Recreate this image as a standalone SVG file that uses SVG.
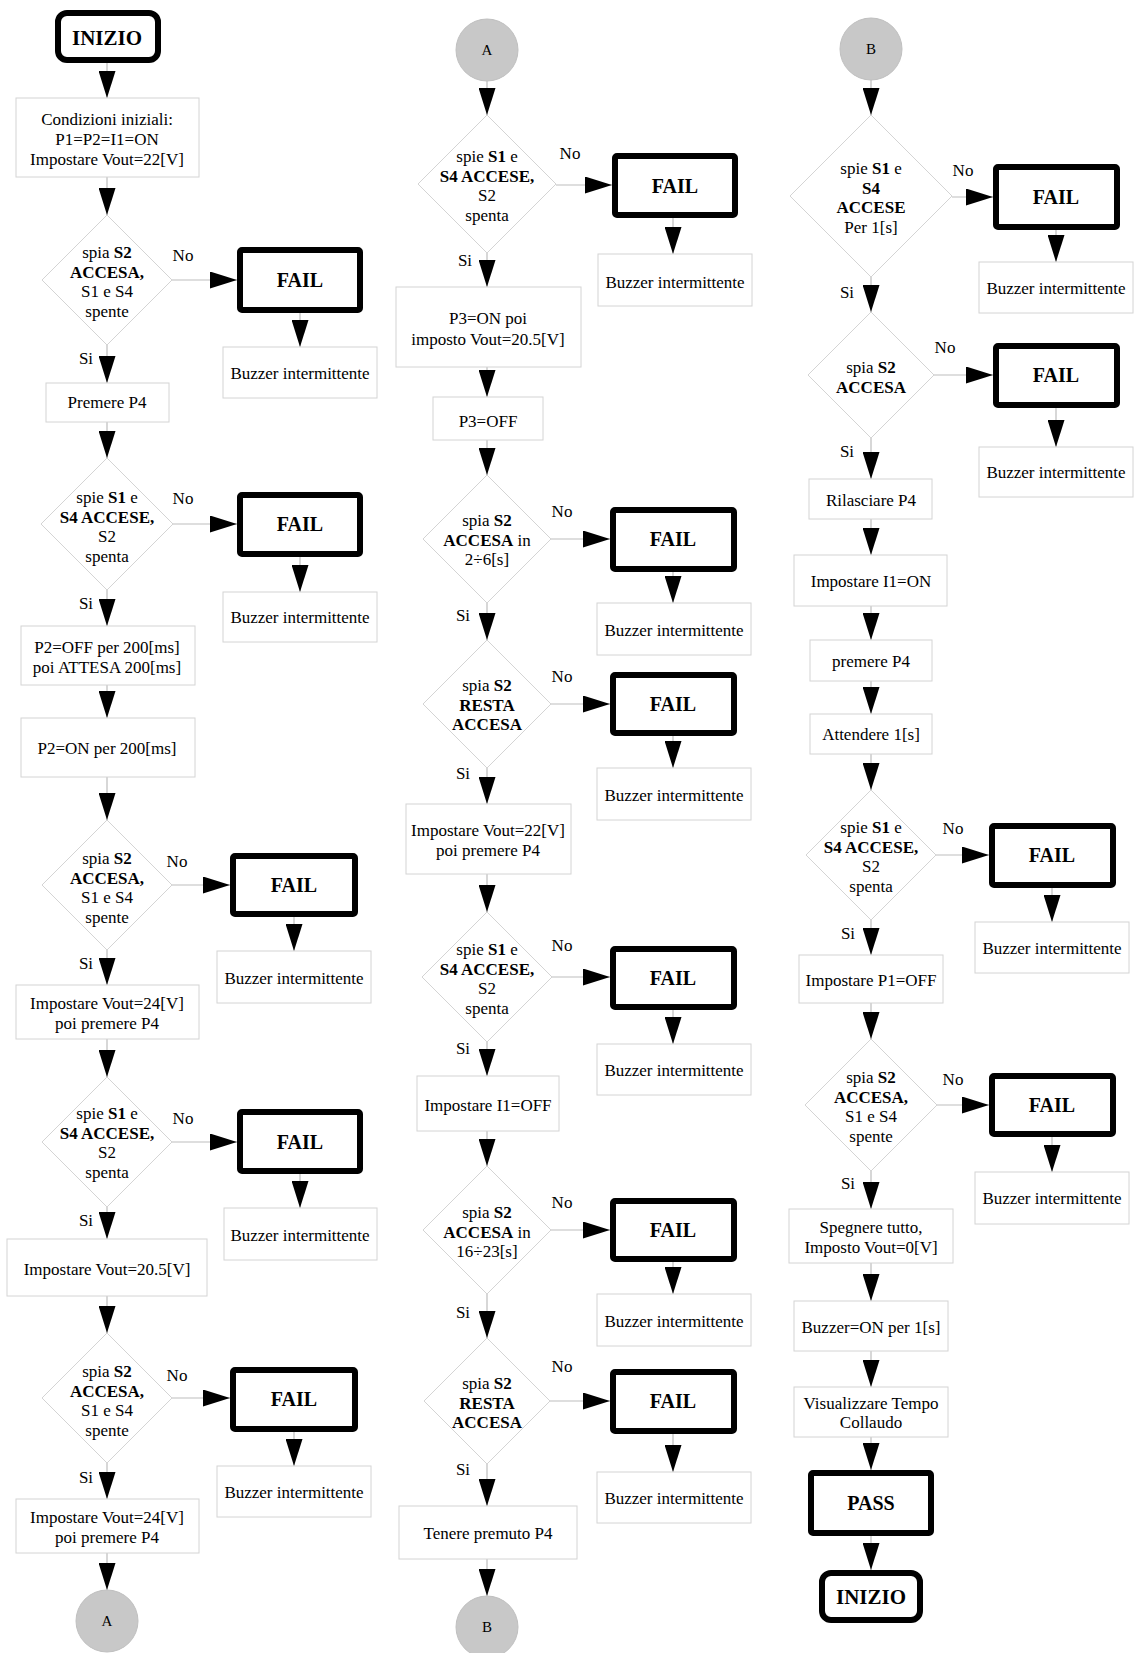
<svg xmlns="http://www.w3.org/2000/svg" width="1135" height="1653" viewBox="0 0 1135 1653">
<style>
text{font-family:"Liberation Serif","Times New Roman",serif;font-size:17px;fill:#000;text-anchor:middle}
.bx{fill:#fff;stroke:#d4d4d4;stroke-width:1}
.dm{fill:#fff;stroke:#d4d4d4;stroke-width:1}
.fail{fill:#fff;stroke:#000;stroke-width:6}
.ft{font-weight:bold;font-size:20px}
.it{font-weight:bold;font-size:21px}
.b{font-weight:bold}
.cir{fill:#c8c8c8;stroke:#c0c0c0;stroke-width:1}
.ct{font-size:15px}
.cn line{stroke:#bdbdbd;stroke-width:1.2;marker-end:url(#ah)}
</style>
<defs>
<marker id="ah" markerUnits="userSpaceOnUse" markerWidth="27" markerHeight="17" viewBox="0 0 27 17" refX="27" refY="8.5" orient="auto"><path d="M0,0 L27,8.5 L0,17 z" fill="#000"/></marker>
</defs>
<rect width="1135" height="1653" fill="#fff"/>

<g id="connectors" class="cn">
<!-- column 1 -->
<line x1="107" y1="63" x2="107" y2="98"/>
<line x1="107" y1="177" x2="107" y2="215"/>
<line x1="172" y1="280" x2="237" y2="280"/>
<line x1="300" y1="313" x2="300" y2="347"/>
<line x1="107" y1="345" x2="107" y2="383"/>
<line x1="107" y1="422" x2="107" y2="458"/>
<line x1="173" y1="524" x2="237" y2="524"/>
<line x1="300" y1="557" x2="300" y2="592"/>
<line x1="107" y1="590" x2="107" y2="626"/>
<line x1="107" y1="685" x2="107" y2="718"/>
<line x1="107" y1="777" x2="107" y2="820"/>
<line x1="172" y1="885" x2="230" y2="885"/>
<line x1="294" y1="917" x2="294" y2="951"/>
<line x1="107" y1="950" x2="107" y2="985"/>
<line x1="107" y1="1039" x2="107" y2="1077"/>
<line x1="172" y1="1142" x2="237" y2="1142"/>
<line x1="300" y1="1174" x2="300" y2="1208"/>
<line x1="107" y1="1207" x2="107" y2="1239"/>
<line x1="107" y1="1296" x2="107" y2="1333"/>
<line x1="172" y1="1398" x2="230" y2="1398"/>
<line x1="294" y1="1432" x2="294" y2="1466"/>
<line x1="107" y1="1463" x2="107" y2="1499"/>
<line x1="107" y1="1553" x2="107" y2="1590"/>
<!-- column 2 -->
<line x1="487" y1="81" x2="487" y2="115"/>
<line x1="556" y1="185" x2="612" y2="185"/>
<line x1="673" y1="218" x2="673" y2="254"/>
<line x1="487" y1="253" x2="487" y2="287"/>
<line x1="487" y1="367" x2="487" y2="397"/>
<line x1="487" y1="440" x2="487" y2="475"/>
<line x1="551" y1="539" x2="610" y2="539"/>
<line x1="673" y1="572" x2="673" y2="603"/>
<line x1="487" y1="603" x2="487" y2="640"/>
<line x1="551" y1="704" x2="610" y2="704"/>
<line x1="673" y1="736" x2="673" y2="768"/>
<line x1="487" y1="768" x2="487" y2="804"/>
<line x1="487" y1="874" x2="487" y2="912"/>
<line x1="552" y1="977" x2="610" y2="977"/>
<line x1="673" y1="1010" x2="673" y2="1044"/>
<line x1="487" y1="1042" x2="487" y2="1076"/>
<line x1="487" y1="1131" x2="487" y2="1166"/>
<line x1="551" y1="1230" x2="610" y2="1230"/>
<line x1="673" y1="1262" x2="673" y2="1294"/>
<line x1="487" y1="1294" x2="487" y2="1338"/>
<line x1="550" y1="1401" x2="610" y2="1401"/>
<line x1="673" y1="1434" x2="673" y2="1472"/>
<line x1="487" y1="1464" x2="487" y2="1506"/>
<line x1="487" y1="1559" x2="487" y2="1596"/>
<!-- column 3 -->
<line x1="871" y1="80" x2="871" y2="115"/>
<line x1="952" y1="197" x2="993" y2="197"/>
<line x1="1056" y1="230" x2="1056" y2="262"/>
<line x1="871" y1="277" x2="871" y2="312"/>
<line x1="934" y1="375" x2="993" y2="375"/>
<line x1="1056" y1="408" x2="1056" y2="447"/>
<line x1="871" y1="438" x2="871" y2="479"/>
<line x1="871" y1="519" x2="871" y2="555"/>
<line x1="871" y1="606" x2="871" y2="640"/>
<line x1="871" y1="681" x2="871" y2="714"/>
<line x1="871" y1="754" x2="871" y2="790"/>
<line x1="936" y1="855" x2="989" y2="855"/>
<line x1="1052" y1="888" x2="1052" y2="922"/>
<line x1="871" y1="920" x2="871" y2="955"/>
<line x1="871" y1="1003" x2="871" y2="1039"/>
<line x1="936" y1="1105" x2="989" y2="1105"/>
<line x1="1052" y1="1137" x2="1052" y2="1172"/>
<line x1="871" y1="1171" x2="871" y2="1209"/>
<line x1="871" y1="1263" x2="871" y2="1301"/>
<line x1="871" y1="1351" x2="871" y2="1387"/>
<line x1="871" y1="1437" x2="871" y2="1470"/>
<line x1="871" y1="1536" x2="871" y2="1570"/>
</g>

<g id="labels">
<text x="183" y="261">No</text><text x="86" y="364">Si</text>
<text x="183" y="504">No</text><text x="86" y="609">Si</text>
<text x="177" y="867">No</text><text x="86" y="969">Si</text>
<text x="183" y="1124">No</text><text x="86" y="1226">Si</text>
<text x="177" y="1381">No</text><text x="86" y="1483">Si</text>
<text x="570" y="159">No</text><text x="465" y="266">Si</text>
<text x="562" y="517">No</text><text x="463" y="621">Si</text>
<text x="562" y="682">No</text><text x="463" y="779">Si</text>
<text x="562" y="951">No</text><text x="463" y="1054">Si</text>
<text x="562" y="1208">No</text><text x="463" y="1318">Si</text>
<text x="562" y="1372">No</text><text x="463" y="1475">Si</text>
<text x="963" y="176">No</text><text x="847" y="298">Si</text>
<text x="945" y="353">No</text><text x="847" y="457">Si</text>
<text x="953" y="834">No</text><text x="848" y="939">Si</text>
<text x="953" y="1085">No</text><text x="848" y="1189">Si</text>
</g>

<!-- ================= COLUMN 1 ================= -->
<g id="c1-inizio"><rect class="fail" x="58" y="13" width="100" height="47" rx="9"/><text class="it" x="107" y="45">INIZIO</text></g>
<g id="c1-cond"><rect class="bx" x="16" y="98" width="183" height="79"/><text x="107" y="125">Condizioni iniziali:</text><text x="107" y="145">P1=P2=I1=ON</text><text x="107" y="165">Impostare Vout=22[V]</text></g>
<g id="c1-d1"><polygon class="dm" points="107,215 172,280 107,345 42,280"/><text x="107" y="258">spia <tspan class="b">S2</tspan></text><text class="b" x="107" y="277.5">ACCESA,</text><text x="107" y="297">S1 e S4</text><text x="107" y="316.5">spente</text></g>
<g id="c1-f1"><rect class="fail" x="240" y="250" width="120" height="60" rx="2"/><text class="ft" x="300" y="287">FAIL</text></g>
<g id="c1-b1"><rect class="bx" x="223" y="347" width="154" height="51"/><text x="300" y="379">Buzzer intermittente</text></g>
<g id="c1-p4"><rect class="bx" x="46" y="383" width="123" height="39"/><text x="107" y="408">Premere P4</text></g>
<g id="c1-d2"><polygon class="dm" points="107,458 173,524 107,590 41,524"/><text x="107" y="503">spie <tspan class="b">S1</tspan> e</text><text class="b" x="107" y="522.5">S4 ACCESE,</text><text x="107" y="542">S2</text><text x="107" y="561.5">spenta</text></g>
<g id="c1-f2"><rect class="fail" x="240" y="495" width="120" height="59" rx="2"/><text class="ft" x="300" y="531">FAIL</text></g>
<g id="c1-b2"><rect class="bx" x="223" y="592" width="154" height="50"/><text x="300" y="623">Buzzer intermittente</text></g>
<g id="c1-p2off"><rect class="bx" x="21" y="626" width="174" height="59"/><text x="107" y="653">P2=OFF per 200[ms]</text><text x="107" y="673">poi ATTESA 200[ms]</text></g>
<g id="c1-p2on"><rect class="bx" x="21" y="718" width="174" height="59"/><text x="107" y="754">P2=ON per 200[ms]</text></g>
<g id="c1-d3"><polygon class="dm" points="107,820 172,885 107,950 42,885"/><text x="107" y="864">spia <tspan class="b">S2</tspan></text><text class="b" x="107" y="883.5">ACCESA,</text><text x="107" y="903">S1 e S4</text><text x="107" y="922.5">spente</text></g>
<g id="c1-f3"><rect class="fail" x="233" y="856" width="122" height="58" rx="2"/><text class="ft" x="294" y="892">FAIL</text></g>
<g id="c1-b3"><rect class="bx" x="217" y="951" width="154" height="52"/><text x="294" y="984">Buzzer intermittente</text></g>
<g id="c1-v24a"><rect class="bx" x="16" y="985" width="183" height="54"/><text x="107" y="1009">Impostare Vout=24[V]</text><text x="107" y="1029">poi premere P4</text></g>
<g id="c1-d4"><polygon class="dm" points="107,1077 172,1142 107,1207 42,1142"/><text x="107" y="1119">spie <tspan class="b">S1</tspan> e</text><text class="b" x="107" y="1138.5">S4 ACCESE,</text><text x="107" y="1158">S2</text><text x="107" y="1177.5">spenta</text></g>
<g id="c1-f4"><rect class="fail" x="240" y="1112" width="120" height="59" rx="2"/><text class="ft" x="300" y="1149">FAIL</text></g>
<g id="c1-b4"><rect class="bx" x="224" y="1208" width="153" height="52"/><text x="300" y="1241">Buzzer intermittente</text></g>
<g id="c1-v205"><rect class="bx" x="7" y="1239" width="200" height="57"/><text x="107" y="1275">Impostare Vout=20.5[V]</text></g>
<g id="c1-d5"><polygon class="dm" points="107,1333 172,1398 107,1463 42,1398"/><text x="107" y="1377">spia <tspan class="b">S2</tspan></text><text class="b" x="107" y="1396.5">ACCESA,</text><text x="107" y="1416">S1 e S4</text><text x="107" y="1435.5">spente</text></g>
<g id="c1-f5"><rect class="fail" x="233" y="1370" width="122" height="59" rx="2"/><text class="ft" x="294" y="1406">FAIL</text></g>
<g id="c1-b5"><rect class="bx" x="217" y="1466" width="154" height="51"/><text x="294" y="1498">Buzzer intermittente</text></g>
<g id="c1-v24b"><rect class="bx" x="16" y="1499" width="183" height="54"/><text x="107" y="1523">Impostare Vout=24[V]</text><text x="107" y="1543">poi premere P4</text></g>
<g id="c1-a"><circle class="cir" cx="107" cy="1621" r="31"/><text class="ct" x="107" y="1626">A</text></g>

<!-- ================= COLUMN 2 ================= -->
<g id="c2-a"><circle class="cir" cx="487" cy="50" r="31"/><text class="ct" x="487" y="55">A</text></g>
<g id="c2-d6"><polygon class="dm" points="487,115 556,184 487,253 418,184"/><text x="487" y="162">spie <tspan class="b">S1</tspan> e</text><text class="b" x="487" y="181.5">S4 ACCESE,</text><text x="487" y="201">S2</text><text x="487" y="220.5">spenta</text></g>
<g id="c2-f6"><rect class="fail" x="615" y="156" width="120" height="59" rx="2"/><text class="ft" x="675" y="193">FAIL</text></g>
<g id="c2-b6"><rect class="bx" x="598" y="254" width="154" height="52"/><text x="675" y="288">Buzzer intermittente</text></g>
<g id="c2-p3on"><rect class="bx" x="396" y="287" width="185" height="80"/><text x="488" y="324">P3=ON poi</text><text x="488" y="345">imposto Vout=20.5[V]</text></g>
<g id="c2-p3off"><rect class="bx" x="433" y="397" width="110" height="43"/><text x="488" y="427">P3=OFF</text></g>
<g id="c2-d7"><polygon class="dm" points="487,475 551,539 487,603 423,539"/><text x="487" y="526">spia <tspan class="b">S2</tspan></text><text x="487" y="545.5"><tspan class="b">ACCESA</tspan> in</text><text x="487" y="565">2÷6[s]</text></g>
<g id="c2-f7"><rect class="fail" x="613" y="510" width="121" height="59" rx="2"/><text class="ft" x="673" y="546">FAIL</text></g>
<g id="c2-b7"><rect class="bx" x="597" y="603" width="154" height="52"/><text x="674" y="636">Buzzer intermittente</text></g>
<g id="c2-d8"><polygon class="dm" points="487,640 551,704 487,768 423,704"/><text x="487" y="691">spia <tspan class="b">S2</tspan></text><text class="b" x="487" y="710.5">RESTA</text><text class="b" x="487" y="730">ACCESA</text></g>
<g id="c2-f8"><rect class="fail" x="613" y="675" width="121" height="58" rx="2"/><text class="ft" x="673" y="711">FAIL</text></g>
<g id="c2-b8"><rect class="bx" x="597" y="768" width="154" height="52"/><text x="674" y="801">Buzzer intermittente</text></g>
<g id="c2-v22"><rect class="bx" x="406" y="804" width="165" height="70"/><text x="488" y="836">Impostare Vout=22[V]</text><text x="488" y="856">poi premere P4</text></g>
<g id="c2-d9"><polygon class="dm" points="487,912 552,977 487,1042 422,977"/><text x="487" y="955">spie <tspan class="b">S1</tspan> e</text><text class="b" x="487" y="974.5">S4 ACCESE,</text><text x="487" y="994">S2</text><text x="487" y="1013.5">spenta</text></g>
<g id="c2-f9"><rect class="fail" x="613" y="949" width="121" height="58" rx="2"/><text class="ft" x="673" y="985">FAIL</text></g>
<g id="c2-b9"><rect class="bx" x="597" y="1044" width="154" height="51"/><text x="674" y="1076">Buzzer intermittente</text></g>
<g id="c2-i1off"><rect class="bx" x="417" y="1076" width="142" height="55"/><text x="488" y="1111">Impostare I1=OFF</text></g>
<g id="c2-d10"><polygon class="dm" points="487,1166 551,1230 487,1294 423,1230"/><text x="487" y="1218">spia <tspan class="b">S2</tspan></text><text x="487" y="1237.5"><tspan class="b">ACCESA</tspan> in</text><text x="487" y="1257">16÷23[s]</text></g>
<g id="c2-f10"><rect class="fail" x="613" y="1201" width="121" height="58" rx="2"/><text class="ft" x="673" y="1237">FAIL</text></g>
<g id="c2-b10"><rect class="bx" x="597" y="1294" width="154" height="52"/><text x="674" y="1327">Buzzer intermittente</text></g>
<g id="c2-d11"><polygon class="dm" points="487,1338 550,1401 487,1464 424,1401"/><text x="487" y="1389">spia <tspan class="b">S2</tspan></text><text class="b" x="487" y="1408.5">RESTA</text><text class="b" x="487" y="1428">ACCESA</text></g>
<g id="c2-f11"><rect class="fail" x="613" y="1372" width="121" height="59" rx="2"/><text class="ft" x="673" y="1408">FAIL</text></g>
<g id="c2-b11"><rect class="bx" x="597" y="1472" width="154" height="51"/><text x="674" y="1504">Buzzer intermittente</text></g>
<g id="c2-tenere"><rect class="bx" x="399" y="1506" width="178" height="53"/><text x="488" y="1539">Tenere premuto P4</text></g>
<g id="c2-b"><circle class="cir" cx="487" cy="1627" r="31"/><text class="ct" x="487" y="1632">B</text></g>

<!-- ================= COLUMN 3 ================= -->
<g id="c3-b"><circle class="cir" cx="871" cy="49" r="31"/><text class="ct" x="871" y="54">B</text></g>
<g id="c3-d12"><polygon class="dm" points="871,115 952,196 871,277 790,196"/><text x="871" y="174">spie <tspan class="b">S1</tspan> e</text><text class="b" x="871" y="194">S4</text><text class="b" x="871" y="213">ACCESE</text><text x="871" y="233">Per 1[s]</text></g>
<g id="c3-f12"><rect class="fail" x="996" y="167" width="121" height="60" rx="2"/><text class="ft" x="1056" y="204">FAIL</text></g>
<g id="c3-b12"><rect class="bx" x="979" y="262" width="154" height="51"/><text x="1056" y="294">Buzzer intermittente</text></g>
<g id="c3-d13"><polygon class="dm" points="871,312 934,375 871,438 808,375"/><text x="871" y="373">spia <tspan class="b">S2</tspan></text><text class="b" x="871" y="393">ACCESA</text></g>
<g id="c3-f13"><rect class="fail" x="996" y="346" width="121" height="59" rx="2"/><text class="ft" x="1056" y="382">FAIL</text></g>
<g id="c3-b13"><rect class="bx" x="979" y="447" width="154" height="50"/><text x="1056" y="478">Buzzer intermittente</text></g>
<g id="c3-ril"><rect class="bx" x="809" y="479" width="123" height="40"/><text x="871" y="506">Rilasciare P4</text></g>
<g id="c3-i1on"><rect class="bx" x="794" y="555" width="153" height="51"/><text x="871" y="587">Impostare I1=ON</text></g>
<g id="c3-prem"><rect class="bx" x="810" y="640" width="122" height="41"/><text x="871" y="667">premere P4</text></g>
<g id="c3-att"><rect class="bx" x="810" y="714" width="122" height="40"/><text x="871" y="740">Attendere 1[s]</text></g>
<g id="c3-d14"><polygon class="dm" points="871,790 936,855 871,920 806,855"/><text x="871" y="833">spie <tspan class="b">S1</tspan> e</text><text class="b" x="871" y="852.5">S4 ACCESE,</text><text x="871" y="872">S2</text><text x="871" y="891.5">spenta</text></g>
<g id="c3-f14"><rect class="fail" x="992" y="826" width="121" height="59" rx="2"/><text class="ft" x="1052" y="862">FAIL</text></g>
<g id="c3-b14"><rect class="bx" x="975" y="922" width="154" height="51"/><text x="1052" y="954">Buzzer intermittente</text></g>
<g id="c3-p1off"><rect class="bx" x="799" y="955" width="144" height="48"/><text x="871" y="986">Impostare P1=OFF</text></g>
<g id="c3-d15"><polygon class="dm" points="871,1039 937,1105 871,1171 805,1105"/><text x="871" y="1083">spia <tspan class="b">S2</tspan></text><text class="b" x="871" y="1102.5">ACCESA,</text><text x="871" y="1122">S1 e S4</text><text x="871" y="1141.5">spente</text></g>
<g id="c3-f15"><rect class="fail" x="992" y="1076" width="121" height="58" rx="2"/><text class="ft" x="1052" y="1112">FAIL</text></g>
<g id="c3-b15"><rect class="bx" x="975" y="1172" width="154" height="52"/><text x="1052" y="1204">Buzzer intermittente</text></g>
<g id="c3-speg"><rect class="bx" x="789" y="1209" width="164" height="54"/><text x="871" y="1233">Spegnere tutto,</text><text x="871" y="1253">Imposto Vout=0[V]</text></g>
<g id="c3-buzon"><rect class="bx" x="794" y="1301" width="154" height="50"/><text x="871" y="1333">Buzzer=ON per 1[s]</text></g>
<g id="c3-vis"><rect class="bx" x="794" y="1387" width="154" height="50"/><text x="871" y="1409">Visualizzare Tempo</text><text x="871" y="1428">Collaudo</text></g>
<g id="c3-pass"><rect class="fail" x="811" y="1473" width="120" height="60" rx="2"/><text class="ft" x="871" y="1510">PASS</text></g>
<g id="c3-inizio"><rect class="fail" x="822" y="1573" width="98" height="47" rx="9"/><text class="it" x="871" y="1604">INIZIO</text></g>
</svg>
